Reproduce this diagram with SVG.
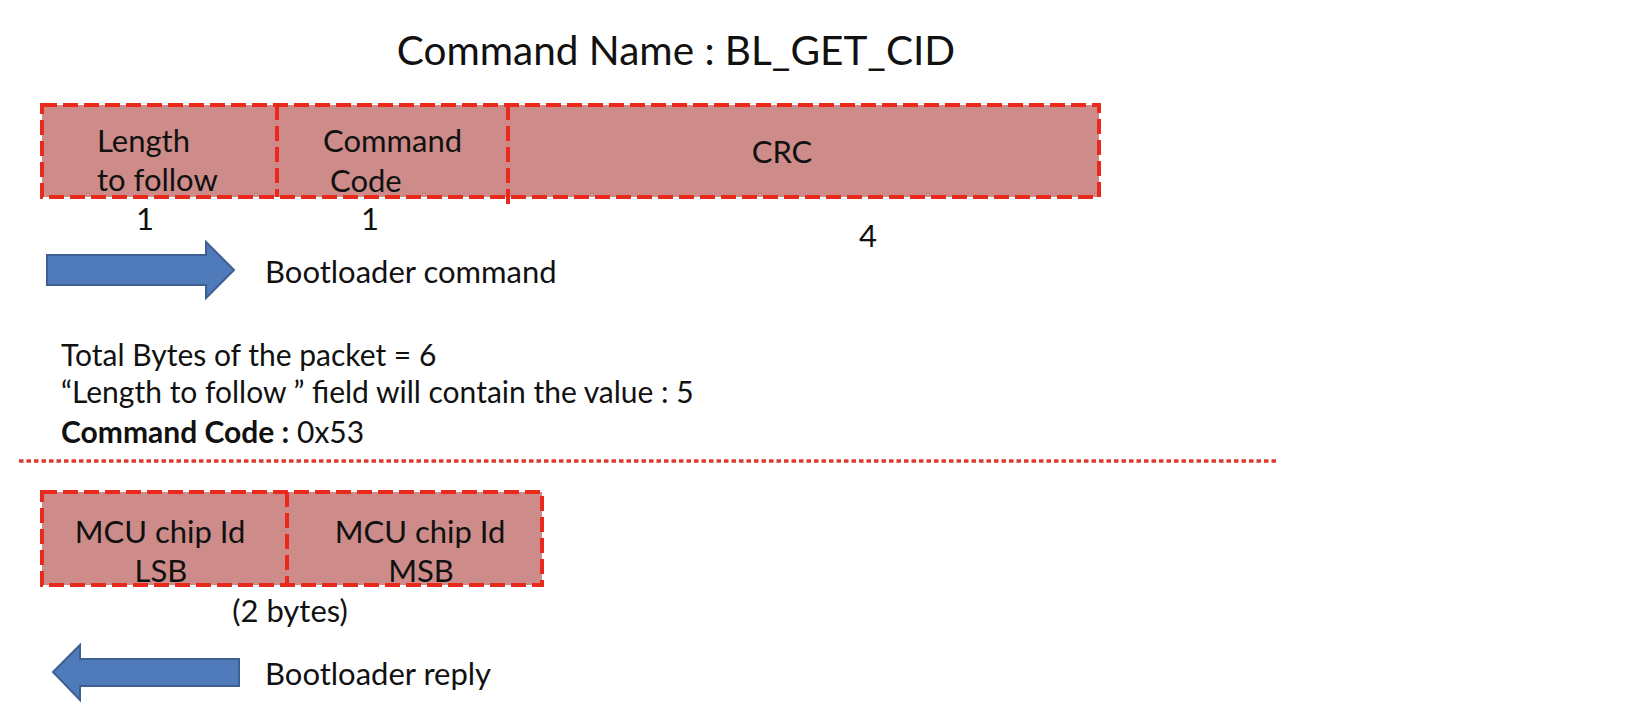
<svg xmlns="http://www.w3.org/2000/svg" width="1636" height="726" viewBox="0 0 1636 726">
<style>
text{font-family:"Lato","Liberation Sans",sans-serif;fill:#111;font-size:31px}
.title{font-size:40.5px}
.note{font-size:30px}
.fill{fill:#cd8c89}
.frame{fill:none;stroke:#e8291c;stroke-width:4;stroke-dasharray:15 6}
.arrow{fill:#4f7bbb;stroke:#3d5f92;stroke-width:2}
.sep{stroke:#e03a30;stroke-width:3.5;stroke-dasharray:4.5 3}
.b{font-weight:bold}
</style>
<rect width="1636" height="726" fill="#fff"/>
<g id="title"><text class="title" x="676" y="65" text-anchor="middle">Command Name : BL_GET_CID</text></g>
<g id="field-length">
<rect class="fill" x="42" y="105" width="235" height="92"/>
<text x="97" y="152">Length</text>
<text x="97" y="191">to follow</text>
<text x="145" y="230" text-anchor="middle">1</text>
</g>
<g id="field-code">
<rect class="fill" x="277" y="105" width="231" height="92"/>
<text x="323" y="152">Command</text>
<text x="330" y="192">Code</text>
<text x="370" y="230" text-anchor="middle">1</text>
</g>
<g id="field-crc">
<rect class="fill" x="508" y="105" width="591" height="92"/>
<text x="782" y="163" text-anchor="middle">CRC</text>
<text x="868" y="247" text-anchor="middle">4</text>
</g>
<g id="command-frame">
<rect class="frame" x="42" y="105" width="1057" height="92"/>
<line class="frame" x1="277" y1="105" x2="277" y2="197"/>
<line class="frame" x1="508" y1="105" x2="508" y2="205"/>
</g>
<g id="cmd-arrow">
<polygon class="arrow" points="47,255 206,255 206,242 234,270 206,298 206,285 47,285"/>
<text x="265" y="283">Bootloader command</text>
</g>
<g id="notes">
<text class="note" x="61" y="366">Total Bytes of the packet = 6</text>
<text class="note" x="61" y="403">“Length to follow ” field will contain the value : 5</text>
<text class="note" x="61" y="443"><tspan class="b">Command Code :</tspan> 0x53</text>
</g>
<g id="connectors">
<line class="sep" x1="19" y1="461" x2="1277" y2="461"/>
</g>
<g id="reply-lsb">
<rect class="fill" x="42" y="492" width="245" height="93"/>
<text x="160" y="543" text-anchor="middle">MCU chip Id</text>
<text x="161" y="582" text-anchor="middle">LSB</text>
</g>
<g id="reply-msb">
<rect class="fill" x="287" y="492" width="255" height="93"/>
<text x="420" y="543" text-anchor="middle">MCU chip Id</text>
<text x="421" y="582" text-anchor="middle">MSB</text>
</g>
<g id="reply-frame">
<rect class="frame" x="42" y="492" width="500" height="93"/>
<line class="frame" x1="287" y1="492" x2="287" y2="585"/>
</g>
<g id="reply-size"><text x="290" y="622" text-anchor="middle">(2 bytes)</text></g>
<g id="reply-arrow">
<polygon class="arrow" points="239,659 80,659 80,645 53,672 80,700 80,686 239,686"/>
<text x="265" y="685">Bootloader reply</text>
</g>
</svg>
